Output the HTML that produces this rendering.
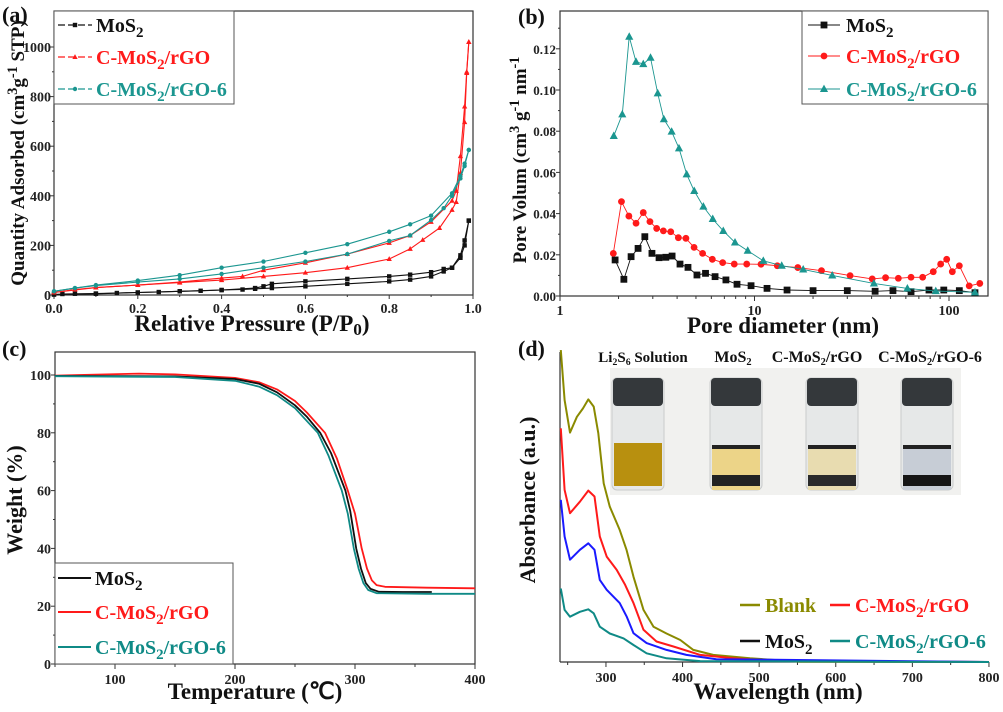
<!DOCTYPE html>
<html><head><meta charset="utf-8"><style>
html,body{margin:0;padding:0;background:#fff;}
svg{display:block;font-family:"Liberation Serif",serif;font-weight:bold;}
</style></head><body>
<svg id="fig" width="1003" height="712" viewBox="0 0 1003 712" xmlns="http://www.w3.org/2000/svg"></svg>
<script>
// ---------- Panel (a) data: N2 isotherms ----------
const aMoS2AdsP=[0,0.02,0.05,0.1,0.15,0.2,0.25,0.3,0.35,0.4,0.45,0.48,0.52,0.6,0.7,0.8,0.85,0.9,0.93,0.95,0.97,0.98,0.99];
const aMoS2AdsV=[2,4,5,6,8,10,12,15,17,20,22,25,28,35,45,55,62,75,95,110,160,220,300];
const aMoS2DesP=[0.99,0.98,0.97,0.95,0.93,0.9,0.85,0.8,0.7,0.6,0.52,0.5,0.48,0.4,0.3,0.2,0.1,0];
const aMoS2DesV=[300,200,150,110,105,92,82,75,65,55,45,35,28,20,15,10,5,2];
const aRgoAdsP=[0,0.05,0.1,0.2,0.3,0.4,0.5,0.6,0.7,0.8,0.85,0.88,0.92,0.95,0.96,0.97,0.98,0.985,0.99];
const aRgoAdsV=[10,22,30,40,50,60,75,90,110,145,186,222,270,343,375,492,697,895,1020];
const aRgoDesP=[0.99,0.985,0.98,0.97,0.96,0.95,0.9,0.85,0.8,0.7,0.6,0.5,0.45,0.4,0.3,0.2,0.1,0];
const aRgoDesV=[1020,900,760,560,420,380,295,240,210,165,130,100,75,68,52,40,30,10];
const aG6AdsP=[0,0.05,0.1,0.2,0.3,0.4,0.5,0.6,0.7,0.8,0.85,0.9,0.93,0.95,0.97,0.98,0.99];
const aG6AdsV=[15,28,38,52,65,85,110,135,165,218,240,302,350,400,470,520,585];
const aG6DesP=[0.99,0.98,0.97,0.95,0.9,0.85,0.8,0.7,0.6,0.5,0.4,0.3,0.2,0.1,0.05,0];
const aG6DesV=[585,530,480,410,320,285,255,205,170,135,110,80,58,40,28,15];
const aXTicks=[0,0.2,0.4,0.6,0.8,1.0];
const aXTickLabels=["0.0","0.2","0.4","0.6","0.8","1.0"];
const aYTicks=[0,200,400,600,800,1000];
// ---------- Panel (b) data: pore size distribution ----------
const bMoS2D=[1.92,2.13,2.32,2.52,2.73,2.97,3.23,3.5,3.77,4.14,4.55,5.06,5.6,6.27,7.13,8.13,9.6,11.6,14.7,20,30,41.7,51.5,63.8,78.9,94,113,136];
const bMoS2V=[0.0175,0.0081,0.0191,0.0231,0.0288,0.0207,0.0186,0.0188,0.0194,0.0155,0.0139,0.0102,0.011,0.0094,0.0078,0.0057,0.005,0.0037,0.0029,0.0026,0.0026,0.0023,0.0026,0.0021,0.0029,0.0029,0.0026,0.0016];
const bRgoD=[1.88,2.07,2.26,2.46,2.68,2.9,3.14,3.4,3.71,4.06,4.44,4.89,5.41,6.07,6.86,7.87,9.12,10.8,13.1,16.7,22.1,31,40.3,47.2,54.9,63.8,73.2,83,90.6,97.3,104,113,127,144];
const bRgoV=[0.0207,0.0458,0.0388,0.0353,0.0405,0.0361,0.0328,0.0316,0.0312,0.0283,0.028,0.0236,0.0207,0.0178,0.0162,0.0155,0.0155,0.0154,0.0147,0.0138,0.0123,0.0099,0.0083,0.0089,0.0086,0.0091,0.0091,0.0118,0.0155,0.0178,0.0118,0.0147,0.0049,0.0061];
const bG6D=[1.89,2.09,2.27,2.46,2.68,2.92,3.18,3.42,3.75,4.09,4.48,4.9,5.46,6.1,6.91,7.94,9.23,11.1,13.8,17.8,25.1,41.1,61.1,85.5,136];
const bG6V=[0.0777,0.0882,0.1259,0.1137,0.1126,0.1157,0.0984,0.0858,0.0798,0.0717,0.0591,0.051,0.0434,0.0374,0.0316,0.026,0.022,0.0171,0.0147,0.0129,0.01,0.0061,0.0037,0.0024,0.0018];
const bXTicks=[1,10,100];
const bYTicks=[0,0.02,0.04,0.06,0.08,0.10,0.12];
const bYTickLabels=["0.00","0.02","0.04","0.06","0.08","0.10","0.12"];
// ---------- Panel (c) data: TGA ----------
const cMoS2T=[50,150,200,220,235,250,260,271,280,292,296,301,305,309,313,320,340,364];
const cMoS2W=[99.7,99.5,98.6,97,94,89.5,85.5,80,73,60,53,40,33,28,26,25,24.9,24.9];
const cRgoT=[50,70,120,150,200,220,235,250,260,275,285,294,300,305.6,310,314,318,325,360,400];
const cRgoW=[99.8,100,100.5,100.2,99,97.5,95,91,87,80,71,60,52,40,33,29,27.3,26.7,26.4,26.2];
const cG6T=[50,150,200,220,235,250,260,269,278,289,294,299,303,307,311,318,360,400];
const cG6W=[99.6,99.3,98,96,93,88.5,84,80,72,60,52,40,33,28,25.6,24.5,24.3,24.3];
const cXTicks=[100,200,300,400];
const cYTicks=[0,20,40,60,80,100];
// ---------- Panel (d) data: UV-vis ----------
const dBlankNm=[241,246,253,262,270,277,284,290,297,305,318,327,336,349,362,379,397,414,440,488,553,800];
const dBlankA=[100.6,84.5,74,79.1,81.8,84.7,82.4,73.8,57.6,50.1,42.6,36.1,27.5,16.8,11.4,9.2,7.1,3.9,2.3,1.2,0.1,0];
const dRgoNm=[241,246,253,266,277,285,292,301,314,325,336,349,366,388,423,466,510,800];
const dRgoA=[75.4,55.5,48,51.7,55.3,53.4,40.5,34,29.7,24.9,19,10.4,6.6,5,2.3,1.2,0.5,0];
const dMoS2Nm=[241,246,253,266,277,285,292,301,318,327,336,353,379,405,444,800];
const dMoS2A=[52.3,40.5,33,36.2,38.3,36.2,26.5,23.3,19,14.7,9.3,6.1,3.9,2.3,0.9,0];
const dG6Nm=[241,246,253,266,277,284,292,305,323,336,353,379,423,800];
const dG6A=[23.7,16.8,14.6,16.2,17,15.7,11.4,9.2,7.6,5.5,2.8,1.2,0.3,0];
const dXTicks=[300,400,500,600,700,800];

const NS="http://www.w3.org/2000/svg";
const svg=document.getElementById('fig');
function mk(tag,attrs,name,parent){
  const e=document.createElementNS(NS,tag);
  for(const k in attrs)e.setAttribute(k,attrs[k]);
  
  
  (parent||svg).appendChild(e);return e;
}
function txt(x,y,parts,size,color,anchor,name,rot){
  const t=mk('text',{x:x,y:y,'font-size':size,fill:color,'text-anchor':anchor||'start'},name);
  if(rot)t.setAttribute('transform','rotate(-90 '+x+' '+y+')');
  parts.forEach(p=>{
    const s=document.createElementNS(NS,'tspan');
    if(typeof p==='string'){s.textContent=p;}
    else{s.textContent=p[0];s.setAttribute('font-size',size*(p[2]||0.75));s.setAttribute('dy',p[1]);}
    t.appendChild(s);
  });
  return t;
}
function line(x1,y1,x2,y2,color,w,name){return mk('line',{x1:x1,y1:y1,x2:x2,y2:y2,stroke:color,'stroke-width':w||1},name);}
function poly(xs,ys,sx,sy,color,w,name){
  const pts=xs.map((x,i)=>sx(x).toFixed(1)+','+sy(ys[i]).toFixed(1)).join(' ');
  return mk('polyline',{points:pts,fill:'none',stroke:color,'stroke-width':w||1,'stroke-linejoin':'round'},name);
}
function marker(type,x,y,color,s,name){
  if(type==='sq')return mk('rect',{x:x-s,y:y-s,width:2*s,height:2*s,fill:color},name);
  if(type==='ci')return mk('circle',{cx:x,cy:y,r:s,fill:color},name);
  return mk('polygon',{points:x+','+(y-s*1.3)+' '+(x-s*1.2)+','+(y+s*0.9)+' '+(x+s*1.2)+','+(y+s*0.9),fill:color},name);
}
function markers(xs,ys,sx,sy,type,color,s,name){xs.forEach((x,i)=>marker(type,sx(x),sy(ys[i]),color,s,name));}

const TEAL='#1b9690', RED='#ff1a1a', OLIVE='#8a8a00', TEAL2='#0f8a86';

// ================= Panel (a) =================
const aL=54,aR=473,aT=11,aB=295;
const aSx=p=>aL+p*(aR-aL), aSy=v=>aB-v*0.248;
mk('rect',{x:aL,y:aT,width:aR-aL,height:aB-aT,fill:'none',stroke:'#333','stroke-width':1.2},'plot-a-frame');
aXTicks.forEach((t,i)=>{line(aSx(t),aB,aSx(t),aB+4,'#333',1,'x-tick-a');txt(aSx(t),aB+18,[aXTickLabels[i]],14,'#222','middle','x-tick-label-a');});
for(let t=0.1;t<1;t+=0.2)line(aSx(t),aB,aSx(t),aB+2,'#333',1,'x-minor-tick-a');
aYTicks.forEach(t=>{line(aL-4,aSy(t),aL,aSy(t),'#333',1,'y-tick-a');txt(aL-3,aSy(t)+5,[String(t)],14,'#222','end','y-tick-label-a');});
for(let t=100;t<1100;t+=200)line(aL-2,aSy(t),aL,aSy(t),'#333',1,'y-minor-tick-a');
[[aMoS2AdsP,aMoS2AdsV,aMoS2DesP,aMoS2DesV,'#111','sq','mos2'],[aRgoAdsP,aRgoAdsV,aRgoDesP,aRgoDesV,RED,'tr','c-mos2-rgo'],[aG6AdsP,aG6AdsV,aG6DesP,aG6DesV,TEAL,'ci','c-mos2-rgo-6']].forEach(s=>{
  poly(s[0],s[1],aSx,aSy,s[4],1.1,'adsorption-line-'+s[6]);
  poly(s[2],s[3],aSx,aSy,s[4],1.1,'desorption-line-'+s[6]);
  markers(s[0],s[1],aSx,aSy,s[5],s[4],2.2,'adsorption-point-'+s[6]);
  markers(s[2],s[3],aSx,aSy,s[5],s[4],2.2,'desorption-point-'+s[6]);
});
mk('rect',{x:aL,y:aT,width:180,height:93,fill:'#fff',stroke:'#555','stroke-width':1},'legend-a-box');
[['#111','sq',25,[ 'MoS',['2',5] ]],[RED,'tr',57,['C-MoS',['2',5],['/rGO',-5,1]]],[TEAL,'ci',89,['C-MoS',['2',5],['/rGO-6',-5,1]]]].forEach(e=>{
  mk('line',{x1:58,y1:e[2],x2:92,y2:e[2],stroke:e[0],'stroke-width':1.2,'stroke-dasharray':'7,3'},'legend-a-line');
  marker(e[1],75,e[2],e[0],2.2,'legend-a-marker');
  txt(96,e[2]+7,e[3],20,e[0],'start','legend-a-label');
});
txt(2,22,['(a)'],22,'#111','start','panel-label-a');
txt(24,153,['Quantity Adsorbed (cm',['3',-7],['g',7,1],['-1',-7],[' STP)',7,1]],19,'#111','middle','y-axis-title-a',true);
txt(252,331,['Relative Pressure (P/P',['0',4],[')',-4,1]],23,'#111','middle','x-axis-title-a');

// ================= Panel (b) =================
const bL=560,bR=988,bT=11,bB=296;
const bSx=d=>bL+Math.log10(d)*194.5, bSy=v=>bB-v*2060;
mk('rect',{x:bL,y:bT,width:bR-bL,height:bB-bT,fill:'none',stroke:'#333','stroke-width':1.2},'plot-b-frame');
bXTicks.forEach(t=>{line(bSx(t),bB,bSx(t),bB+5,'#333',1,'x-tick-b');txt(bSx(t),bB+19,[String(t)],14,'#222','middle','x-tick-label-b');});
[1,10,100].forEach(dec=>{for(let k=2;k<10;k++){const v=dec*k;if(bSx(v)<bR)line(bSx(v),bB,bSx(v),bB+3,'#333',1,'x-minor-tick-b');}});
bYTicks.forEach((t,i)=>{line(bL-4,bSy(t),bL,bSy(t),'#333',1,'y-tick-b');txt(bL-4,bSy(t)+5,[bYTickLabels[i]],13,'#222','end','y-tick-label-b');});
for(let t=0.01;t<0.135;t+=0.02)line(bL-2,bSy(t),bL,bSy(t),'#333',1,'y-minor-tick-b');
[[bMoS2D,bMoS2V,'#111','sq','mos2'],[bRgoD,bRgoV,RED,'ci','c-mos2-rgo'],[bG6D,bG6V,TEAL,'tr','c-mos2-rgo-6']].forEach(s=>{
  poly(s[0],s[1],bSx,bSy,s[2],0.9,'pore-line-'+s[4]);
  markers(s[0],s[1],bSx,bSy,s[3],s[2],3.4,'pore-point-'+s[4]);
});
mk('rect',{x:802,y:bT,width:186,height:93,fill:'#fff',stroke:'#555','stroke-width':1},'legend-b-box');
[['#111','sq',25,['MoS',['2',5]]],[RED,'ci',56,['C-MoS',['2',5],['/rGO',-5,1]]],[TEAL,'tr',89,['C-MoS',['2',5],['/rGO-6',-5,1]]]].forEach(e=>{
  line(808,e[2],840,e[2],e[0],1,'legend-b-line');
  marker(e[1],824,e[2],e[0],3.4,'legend-b-marker');
  txt(846,e[2]+7,e[3],20,e[0],'start','legend-b-label');
});
txt(518,24,['(b)'],22,'#111','start','panel-label-b');
txt(526,160,['Pore Volum (cm',['3',-7],[' g',7,1],['-1',-7],[' nm',7,1],['-1',-7]],19,'#111','middle','y-axis-title-b',true);
txt(783,333,['Pore diameter (nm)'],23,'#111','middle','x-axis-title-b');

// ================= Panel (c) =================
const cL=55,cR=475,cT=352,cB=664;
const cSx=T=>cL+(T-50)*1.2, cSy=w=>cB-w*2.89;
mk('rect',{x:cL,y:cT,width:cR-cL,height:cB-cT,fill:'none',stroke:'#333','stroke-width':1.2},'plot-c-frame');
cXTicks.forEach(t=>{line(cSx(t),cB,cSx(t),cB+5,'#333',1,'x-tick-c');txt(cSx(t),cB+20,[String(t)],14,'#222','middle','x-tick-label-c');});
[50,150,250,350].forEach(t=>line(cSx(t),cB,cSx(t),cB+3,'#333',1,'x-minor-tick-c'));
cYTicks.forEach(t=>{line(cL-4,cSy(t),cL,cSy(t),'#333',1,'y-tick-c');txt(cL-4,cSy(t)+5,[String(t)],14,'#222','end','y-tick-label-c');});
for(let t=10;t<=100;t+=20)line(cL-2,cSy(t),cL,cSy(t),'#333',1,'y-minor-tick-c');
poly(cRgoT,cRgoW,cSx,cSy,RED,1.8,'tga-line-c-mos2-rgo');
poly(cMoS2T,cMoS2W,cSx,cSy,'#111',1.8,'tga-line-mos2');
poly(cG6T,cG6W,cSx,cSy,TEAL2,1.8,'tga-line-c-mos2-rgo-6');
mk('rect',{x:cL,y:563,width:178,height:101,fill:'#fff',stroke:'#555','stroke-width':1},'legend-c-box');
[['#111',578,['MoS',['2',5]]],[RED,612,['C-MoS',['2',5],['/rGO',-5,1]]],[TEAL2,647,['C-MoS',['2',5],['/rGO-6',-5,1]]]].forEach(e=>{
  line(58,e[1],91,e[1],e[0],2,'legend-c-line');
  txt(95,e[1]+7,e[2],20,e[0],'start','legend-c-label');
});
txt(2,356,['(c)'],22,'#111','start','panel-label-c');
txt(22,500,['Weight (%)'],22,'#111','middle','y-axis-title-c',true);
txt(255,699,['Temperature (℃)'],23,'#111','middle','x-axis-title-c');

// ================= Panel (d) =================
const dL=560,dR=989,dT=352,dB=662;
const dSx=n=>dL+(n-240)*0.766, dSy=a=>dB-a*3.1;
line(dL,dT,dL,dB,'#333',1.2,'y-axis-line-d');
line(dL,dB,dR,dB,'#333',1.2,'x-axis-line-d');
dXTicks.forEach(t=>{line(dSx(t),dB,dSx(t),dB+5,'#333',1,'x-tick-d');txt(dSx(t),dB+20,[String(t)],14,'#222','middle','x-tick-label-d');});
[250,350,450,550,650,750].forEach(t=>line(dSx(t),dB,dSx(t),dB+3,'#333',1,'x-minor-tick-d'));
poly(dBlankNm,dBlankA,dSx,dSy,OLIVE,2,'uv-line-blank');
poly(dRgoNm,dRgoA,dSx,dSy,RED,2,'uv-line-c-mos2-rgo');
poly(dMoS2Nm,dMoS2A,dSx,dSy,'#1a1aff',2,'uv-line-mos2');
poly(dG6Nm,dG6A,dSx,dSy,TEAL2,2,'uv-line-c-mos2-rgo-6');
// inset photo of vials
mk('rect',{x:610,y:368,width:351,height:127,fill:'#f1f1ef'},'inset-photo');
const vialX=[638,736,832,927];
const liquid=['#b8900f','#ecd488','#e8dcb0','#c7cdd6'];
const sediment=[null,'#222','#2a2a2a','#151515'];
vialX.forEach((cx,i)=>{
  mk('rect',{x:cx-26,y:378,width:52,height:112,rx:5,fill:'#e6e8e8',stroke:'#c9cbcb'},'vial-glass');
  mk('rect',{x:cx-25,y:378,width:50,height:28,rx:4,fill:'#34383b'},'vial-cap');
  const top=i===0?443:447;
  mk('rect',{x:cx-24,y:top,width:48,height:43,fill:liquid[i]},'vial-liquid');
  if(sediment[i]){
    mk('rect',{x:cx-24,y:top-2,width:48,height:4,fill:'#222'},'vial-meniscus');
    mk('rect',{x:cx-24,y:475,width:48,height:11,fill:sediment[i]},'vial-sediment');
  }
});
txt(643,362,['Li',['2',3,0.65],['S',-3,1],['6',3,0.65],[' Solution',-3,1]],15,'#111','middle','inset-label-li2s6');
txt(733,362,['MoS',['2',3,0.65]],16,'#111','middle','inset-label-mos2');
txt(817,362,['C-MoS',['2',3,0.65],['/rGO',-3,1]],16,'#111','middle','inset-label-c-mos2-rgo');
txt(930,362,['C-MoS',['2',3,0.65],['/rGO-6',-3,1]],16,'#111','middle','inset-label-c-mos2-rgo-6');
// legend d
[[OLIVE,740,605,['Blank']],[RED,830,605,['C-MoS',['2',5],['/rGO',-5,1]]],['#111',740,641,['MoS',['2',6]]],[TEAL2,830,641,['C-MoS',['2',5],['/rGO-6',-5,1]]]].forEach(e=>{
  line(e[1],e[2],e[1]+20,e[2],e[0],2.5,'legend-d-line');
  txt(e[1]+25,e[2]+7,e[3],20,e[0],'start','legend-d-label');
});
txt(518,356,['(d)'],22,'#111','start','panel-label-d');
txt(535,500,['Absorbance (a.u.)'],22,'#111','middle','y-axis-title-d',true);
txt(778,699,['Wavelength (nm)'],23,'#111','middle','x-axis-title-d');
</script>
</body></html>
